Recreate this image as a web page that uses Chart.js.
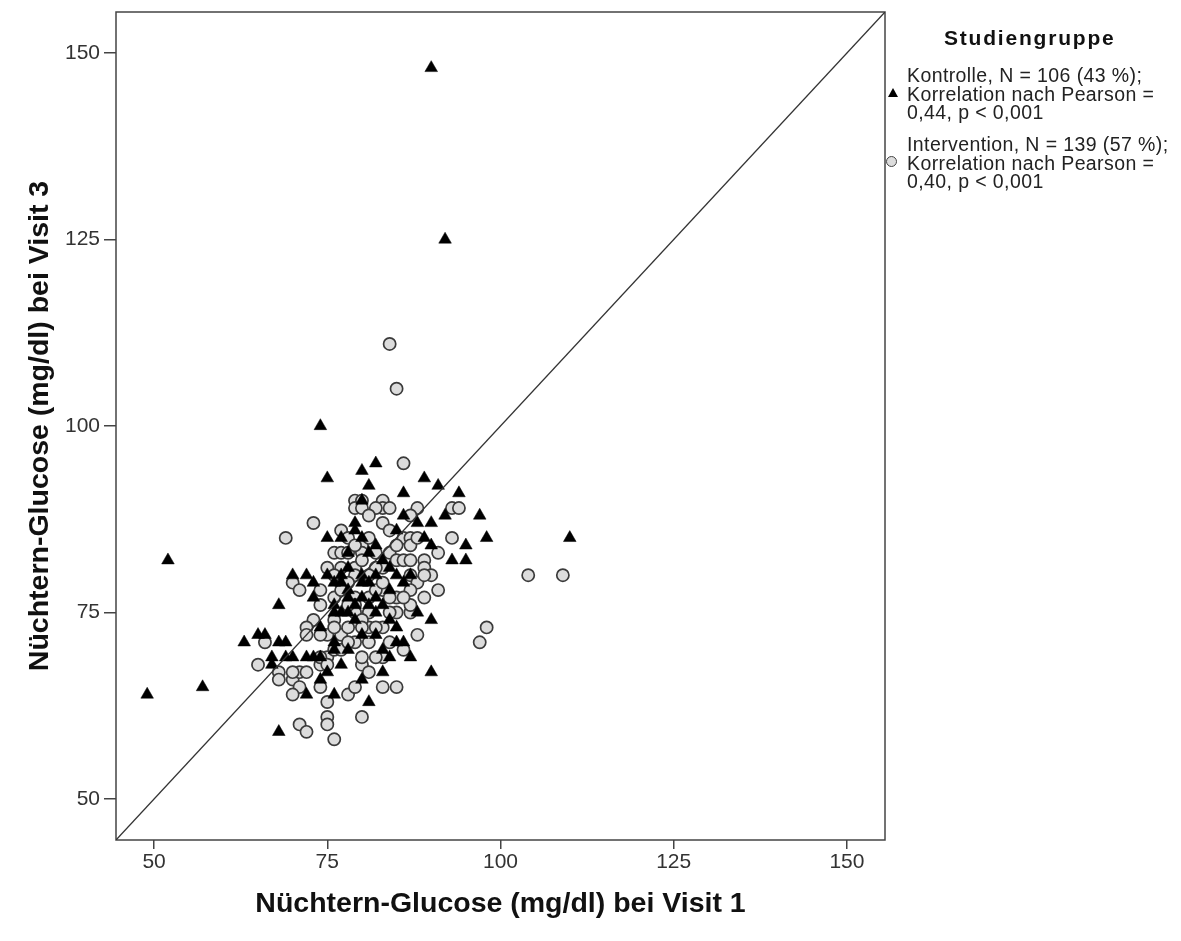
<!DOCTYPE html>
<html>
<head>
<meta charset="utf-8">
<script src="https://cdn.jsdelivr.net/npm/chart.js@4.4.1/dist/chart.umd.min.js"></script>
<style>
  html, body { margin: 0; padding: 0; background: #fff; }
  #wrap { position: relative; width: 1181px; height: 941px; }
  #legend { position: absolute; left: 0; top: 0; font-family: "Liberation Sans", Arial, sans-serif; color: #222; }
  .lg-title { position: absolute; left: 944px; top: 26px; font-size: 21px; font-weight: bold; color: #111; letter-spacing: 1.8px; white-space: nowrap; }
  .lg-text { position: absolute; left: 907px; font-size: 19.5px; line-height: 18.5px; letter-spacing: 0.4px; white-space: nowrap; }
  .tri { position: absolute; width: 0; height: 0; border-left: 5.5px solid transparent; border-right: 5.5px solid transparent; border-bottom: 9px solid #000; }
  .circ { position: absolute; width: 9px; height: 9px; border-radius: 50%; border: 1.6px solid #444; background: #ddd; }
</style>
</head>
<body>
<div id="wrap">
  <canvas id="chart" width="1181" height="941"></canvas>
  <div id="legend"></div>
</div>
<script>
// axis setup
const axisMin = 44.5;
const axisMax = 155.5;
const tickValues = [50, 75, 100, 125, 150];
const xTitle = 'Nüchtern-Glucose (mg/dl) bei Visit 1';
const yTitle = 'Nüchtern-Glucose (mg/dl) bei Visit 3';

// Kontrolle: [visit 1, visit 3]
const kontrolle = [
  [90,148],[92,125],[74,100],[52,82],[49,64],[57,65],[110,85],[68,59],
  [82,95],[80,94],[75,93],[81,92],[89,93],[91,92],[94,91],[86,91],[80,90],
  [86,88],[88,87],[90,87],[97,88],[98,85],[90,84],[95,84],[93,82],[95,82],
  [82,84],[84,81],[82,80],[86,79],[79,87],[79,86],[75,85],[77,85],[80,85],
  [70,80],[72,80],[73,79],[75,80],[77,79],[80,80],[77,80],[80,79],[68,76],
  [63,71],[65,72],[66,72],[68,71],[69,71],[67,69],[67,68],[70,69],[72,69],[73,69],[74,69],
  [75,67],[74,66],[72,64],[76,64],[81,63],[90,74],[86,71],[87,69],[83,70],[83,67],[90,67],
  [84,74],[83,76],[76,76],[76,75],[77,75],[78,75],[74,73],[76,71],[76,70],
  [78,78],[79,76],[81,79],[82,77],[84,78],[85,80],[83,82],[81,83],[78,81],[79,74],
  [80,72],[82,72],[85,73],[78,70],[77,68],[80,66],[84,69],[88,75],[87,80],[89,85],
  [92,88],[85,86],[73,77],[78,77],[81,76],[69,69],[78,83],[80,77],[76,79],[82,75],[85,71]
];

// Intervention: [visit 1, visit 3]
const intervention = [
  [84,111],[85,105],[104,80],[109,80],[98,73],[97,71],[86,95],
  [83,90],[83,89],[83,87],[84,89],[82,89],[88,89],[87,88],[93,89],[94,89],[93,85],
  [86,85],[87,85],[87,84],[91,83],[84,83],[83,81],[85,82],[86,82],[87,82],[89,82],
  [87,80],[89,81],[88,79],[90,80],[83,78],[87,78],[85,77],[89,77],[91,78],[79,90],
  [80,90],[79,89],[80,89],[81,88],[73,87],[69,85],[77,86],[76,83],[77,83],[78,83],
  [80,84],[80,83],[75,81],[77,81],[79,81],[80,82],[76,80],[79,80],[70,79],[71,78],
  [74,78],[76,77],[79,77],[66,71],[65,68],[68,67],[68,66],[70,66],[71,67],[72,67],
  [71,65],[70,64],[74,65],[75,69],[74,68],[76,70],[77,70],[78,64],[79,65],[75,63],
  [75,61],[75,60],[71,60],[72,59],[76,58],[80,61],[80,68],[80,69],[88,72],[84,71],
  [86,70],[83,69],[82,69],[83,65],[85,65],[81,67],[87,75],[85,75],[84,75],[87,76],
  [81,75],[81,73],[81,71],[83,73],[74,76],[79,76],[79,75],[81,77],[82,78],[83,79],
  [80,74],[73,74],[72,73],[72,72],[75,72],[77,72],[78,73],[80,73],[79,71],[74,69],
  [75,68],[70,67],[78,79],[77,78],[78,76],[76,74],[78,71],[82,73],[84,77],[86,77],
  [82,81],[81,80],[84,86],[85,84],[78,85],[79,84],[81,85],[88,85],[76,73],[82,83],
  [89,80],[74,72]
];

// diagonal y = x
const referenceLine = [[axisMin, axisMin], [axisMax, axisMax]];

const legendTitle = 'Studiengruppe';
const legendKontrolle = ['Kontrolle, N = 106 (43 %);', 'Korrelation nach Pearson =', '0,44, p < 0,001'];
const legendIntervention = ['Intervention, N = 139 (57 %);', 'Korrelation nach Pearson =', '0,40, p < 0,001'];

const FONT = '"Liberation Sans", Arial, sans-serif';
const toPoints = arr => arr.map(p => ({ x: p[0], y: p[1] }));

// full box around the plot area
const framePlugin = {
  id: 'frame',
  beforeDatasetsDraw(chart) {
    const { ctx, chartArea: a } = chart;
    ctx.save();
    ctx.strokeStyle = '#444';
    ctx.lineWidth = 1.5;
    ctx.strokeRect(a.left, a.top, a.right - a.left, a.bottom - a.top);
    ctx.restore();
  }
};

const ctx = document.getElementById('chart').getContext('2d');
new Chart(ctx, {
  type: 'scatter',
  data: {
    datasets: [
      {
        label: 'Referenz',
        data: toPoints(referenceLine),
        showLine: true,
        borderColor: '#333',
        borderWidth: 1.3,
        pointRadius: 0,
        order: 0
      },
      {
        label: legendKontrolle.join(' '),
        data: toPoints(kontrolle),
        pointStyle: 'triangle',
        pointRadius: 7.3,
        backgroundColor: '#000',
        borderColor: '#000',
        borderWidth: 0.5,
        order: 1
      },
      {
        label: legendIntervention.join(' '),
        data: toPoints(intervention),
        pointStyle: 'circle',
        pointRadius: 6.1,
        backgroundColor: '#dcdcdc',
        borderColor: '#3a3a3a',
        borderWidth: 1.7,
        order: 2
      }
    ]
  },
  options: {
    responsive: false,
    animation: false,
    events: [],
    layout: { padding: { left: 0, right: 296, top: 12, bottom: 0 } },
    plugins: { legend: { display: false }, tooltip: { enabled: false } },
    scales: {
      x: {
        type: 'linear',
        min: axisMin,
        max: axisMax,
        afterBuildTicks: s => { s.ticks = tickValues.map(v => ({ value: v })); },
        afterFit: s => { s.height = 101; s.paddingLeft = 0; s.paddingRight = 0; },
        grid: { drawOnChartArea: false, drawTicks: true, tickLength: 9, color: '#444', lineWidth: 1.5 },
        border: { display: false },
        ticks: { font: { family: FONT, size: 21 }, color: '#333', padding: 1, maxRotation: 0 },
        title: { display: true, text: xTitle, color: '#111', font: { family: FONT, size: 28.5, weight: 'bold' }, padding: { top: 0, bottom: 20 } }
      },
      y: {
        type: 'linear',
        min: axisMin,
        max: axisMax,
        afterBuildTicks: s => { s.ticks = tickValues.map(v => ({ value: v })); },
        afterFit: s => { s.width = 116; s.paddingTop = 0; s.paddingBottom = 0; },
        grid: { drawOnChartArea: false, drawTicks: true, tickLength: 12, color: '#444', lineWidth: 1.5 },
        border: { display: false },
        ticks: { font: { family: FONT, size: 21 }, color: '#333', padding: 4 },
        title: { display: true, text: yTitle, color: '#111', font: { family: FONT, size: 28.5, weight: 'bold' }, padding: { top: 23, bottom: 0 } }
      }
    }
  },
  plugins: [framePlugin]
});

// legend at the right, built from the label arrays
const legend = document.getElementById('legend');
const addText = (lines, top) => {
  const d = document.createElement('div');
  d.className = 'lg-text';
  d.style.top = top + 'px';
  d.innerHTML = lines.map(l => l.replace(/</g, '&lt;')).join('<br>');
  legend.appendChild(d);
};
const t = document.createElement('div');
t.className = 'lg-title';
t.textContent = legendTitle;
legend.appendChild(t);

addText(legendKontrolle, 66);
const tri = document.createElement('div');
tri.className = 'tri';
tri.style.left = '888px';
tri.style.top = '88px';
legend.appendChild(tri);

addText(legendIntervention, 135);
const circ = document.createElement('div');
circ.className = 'circ';
circ.style.left = '886px';
circ.style.top = '156px';
legend.appendChild(circ);
</script>
</body>
</html>
